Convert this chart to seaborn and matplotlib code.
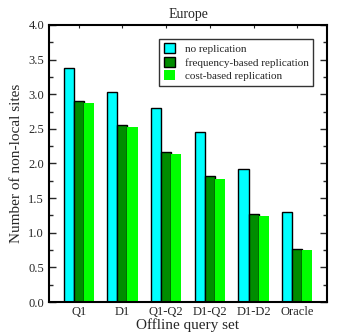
import matplotlib
matplotlib.use("Agg")
import matplotlib.pyplot as plt
import seaborn as sns
import pandas as pd
from matplotlib.ticker import MultipleLocator

categories = ["Q1", "D1", "Q1-Q2", "D1-Q2", "D1-D2", "Oracle"]
no_rep = [3.38, 3.03, 2.80, 2.45, 1.92, 1.30]
freq_rep = [2.90, 2.55, 2.17, 1.82, 1.27, 0.77]
cost_rep = [2.88, 2.53, 2.13, 1.78, 1.24, 0.75]
series = ["no replication", "frequency-based replication", "cost-based replication"]

rows = []
for name, vals in zip(series, [no_rep, freq_rep, cost_rep]):
    for c, v in zip(categories, vals):
        rows.append({"set": c, "series": name, "value": v})
df = pd.DataFrame(rows)

sns.set_style("ticks")
plt.rcParams['font.family'] = ['Liberation Serif', 'DejaVu Serif']

colors = ["#00FFFF", "#008C00", "#00FF00"]
edges = ["black", "black", "none"]

fig = plt.figure(figsize=(3.44, 3.35), dpi=100)
ax = fig.add_axes([0.1424, 0.0985, 0.8082, 0.8269])
sns.barplot(data=df, x="set", y="value", hue="series", palette=colors,
            width=0.69, saturation=1, ax=ax, legend=True)

for i, cont in enumerate(ax.containers):
    for p in cont:
        p.set_edgecolor(edges[i])
        p.set_linewidth(1.0 if edges[i] != "none" else 0)

ax.set_xlim(-0.68, 5.68)
ax.set_ylim(0, 4.0)
ax.yaxis.set_major_locator(MultipleLocator(0.5))
ax.yaxis.set_minor_locator(MultipleLocator(0.25))
ax.yaxis.set_major_formatter(matplotlib.ticker.FormatStrFormatter('%.1f'))
ax.tick_params(axis='y', which='major', direction='in', length=5, width=1, left=True, right=True, labelsize=9)
ax.tick_params(axis='y', which='minor', direction='in', length=3, width=1, left=True, right=True)
ax.tick_params(axis='x', which='major', direction='in', length=2, width=0.8, top=True, bottom=False, labelsize=9, pad=3)
for s in ax.spines.values():
    s.set_visible(True)
    s.set_linewidth(1.5)
    s.set_color("black")

ax.set_xlabel("Offline query set", fontsize=11, labelpad=0)
ax.set_ylabel("Number of non-local sites", fontsize=11, labelpad=4)
ax.set_title("Europe", fontsize=10, pad=5)

handles, labels = ax.get_legend_handles_labels()
leg = ax.legend(handles, labels, loc="upper right", bbox_to_anchor=(0.97, 0.97),
                fontsize=8, frameon=True, fancybox=False, edgecolor="black",
                handlelength=1.0, handleheight=1.0, handletextpad=0.9,
                borderpad=0.4, labelspacing=0.25)
leg.get_frame().set_linewidth(1.0)
for i, h in enumerate(leg.legend_handles):
    h.set_edgecolor(edges[i])
    h.set_linewidth(1.0 if edges[i] != "none" else 0)

fig.savefig("out.png", dpi=100)
